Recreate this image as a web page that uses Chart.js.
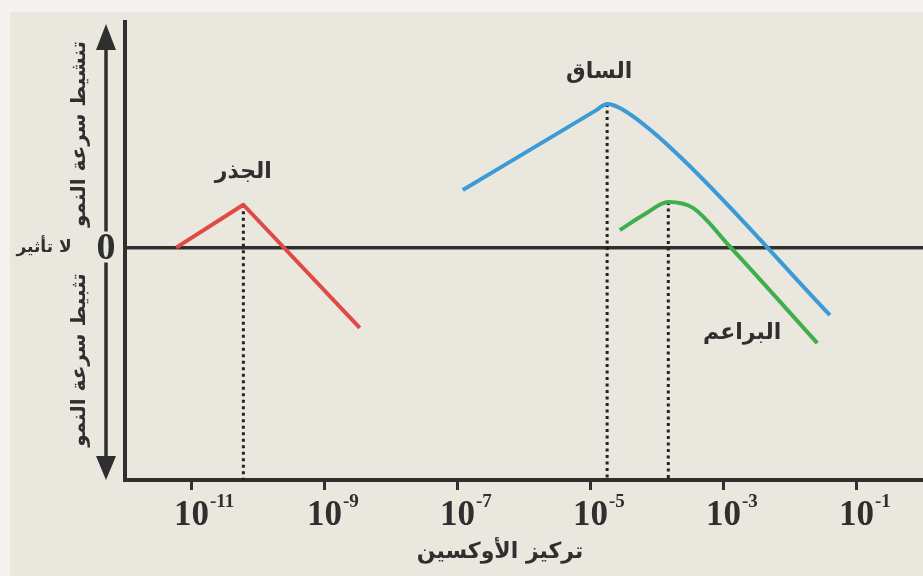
<!DOCTYPE html>
<html>
<head>
<meta charset="utf-8">
<script src="https://cdn.jsdelivr.net/npm/chart.js@4/dist/chart.umd.min.js"></script>
<style>
  html, body { margin: 0; padding: 0; background: #f4f3ef; }
  #wrap { width: 923px; height: 576px; }
</style>
</head>
<body>
<div id="wrap"><canvas id="c" width="923" height="576"></canvas></div>
<script>
// x: log10 of auxin concentration, y: growth response (+ stimulation, − inhibition)
const xTicks = [-11, -9, -7, -5, -3, -1];
const xMin = -12, xMax = 0;
const yMin = -10.3, yMax = 10;

const rootX = [-11.23, -10.22, -8.47];
const rootY = [0, 1.9, -3.56];
const stemX = [-6.92, -4.93, -4.75, -4.53, -3.76, -1.40];
const stemY = [2.55, 6.06, 6.37, 6.14, 4.33, -2.99];
const budX  = [-4.56, -4.18, -3.83, -3.46, -2.90, -1.59];
const budY  = [0.78, 1.49, 2.02, 1.76, 0.03, -4.23];

// optimum concentration of each organ
const optimumX = [-10.22, -4.75, -3.83];
const optimumY = [1.9, 6.37, 2.02];

const organNames = ['الجذر', 'الساق', 'البراعم'];
const nameX = [-10.22, -4.87, -2.72];
const nameY = [3.35, 7.78, -3.79];

const xTitle = 'تركيز الأوكسين';
const upText = 'تنشيط سرعة النمو';
const downText = 'تثبيط سرعة النمو';
const noEffect = 'لا تأثير';

const ink = '#2f2f2f';
const arabicFont = '"DejaVu Sans", sans-serif';
const serifFont = '"Liberation Serif", "DejaVu Serif", serif';

const pts = (xs, ys) => xs.map((x, i) => ({ x, y: ys[i] }));

const curve = (data, color, smooth) => ({
  data, borderColor: color, borderWidth: 4, pointRadius: 0,
  borderJoinStyle: 'round', showLine: true,
  cubicInterpolationMode: smooth ? 'monotone' : 'default', tension: 0
});
const dotted = (i) => ({
  data: [{ x: optimumX[i], y: optimumY[i] }, { x: optimumX[i], y: yMin }],
  borderColor: '#222', borderWidth: 3, borderDash: [3, 3.5],
  pointRadius: 0, showLine: true, tension: 0
});

const decor = {
  id: 'decor',
  beforeDraw(chart) {
    const ctx = chart.ctx;
    ctx.save();
    ctx.fillStyle = '#f4f3ef';
    ctx.fillRect(0, 0, chart.width, chart.height);
    ctx.fillStyle = '#eae8de';
    ctx.fillRect(10, 12, chart.width - 10, chart.height - 12);
    ctx.restore();
  },
  afterDraw(chart) {
    const ctx = chart.ctx;
    const xs = chart.scales.x, ys = chart.scales.y;
    const area = chart.chartArea;
    ctx.save();
    ctx.fillStyle = ink;
    ctx.strokeStyle = ink;

    // tick labels 10^n
    xTicks.forEach(v => {
      const px = xs.getPixelForValue(v);
      ctx.direction = 'ltr';
      ctx.font = 'bold 35px ' + serifFont;
      ctx.textAlign = 'center';
      ctx.textBaseline = 'alphabetic';
      ctx.fillText('10', px, 525);
      const w = ctx.measureText('10').width;
      ctx.font = 'bold 19px ' + serifFont;
      ctx.textAlign = 'left';
      ctx.fillText(String(v), px + w / 2 + 1, 507);
    });

    // axis title
    ctx.direction = 'rtl';
    ctx.textAlign = 'center';
    ctx.textBaseline = 'middle';
    ctx.font = 'bold 22px ' + arabicFont;
    ctx.fillText(xTitle, 500, 552);

    // organ names
    ctx.font = 'bold 22px ' + arabicFont;
    organNames.forEach((t, i) => {
      ctx.fillText(t, xs.getPixelForValue(nameX[i]), ys.getPixelForValue(nameY[i]));
    });

    // zero label and "no effect"
    const y0 = ys.getPixelForValue(0);
    ctx.direction = 'ltr';
    ctx.font = 'bold 38px ' + serifFont;
    ctx.fillText('0', 106, y0 + 2);
    ctx.direction = 'rtl';
    ctx.font = 'bold 17px ' + arabicFont;
    ctx.fillText(noEffect, 44, y0);

    // rotated side texts
    ctx.font = 'bold 20px ' + arabicFont;
    [[upText, 134], [downText, 360]].forEach(([t, cy]) => {
      ctx.save();
      ctx.translate(80, cy);
      ctx.rotate(-Math.PI / 2);
      ctx.fillText(t, 0, 0);
      ctx.restore();
    });

    // double-headed arrow
    const ax = 106;
    ctx.lineWidth = 3.5;
    ctx.beginPath();
    ctx.moveTo(ax, area.top + 20); ctx.lineTo(ax, y0 - 16);
    ctx.moveTo(ax, y0 + 15); ctx.lineTo(ax, area.bottom - 20);
    ctx.stroke();
    ctx.beginPath();
    ctx.moveTo(ax, area.top + 2); ctx.lineTo(ax - 10, area.top + 28); ctx.lineTo(ax + 10, area.top + 28);
    ctx.closePath(); ctx.fill();
    ctx.beginPath();
    ctx.moveTo(ax, area.bottom); ctx.lineTo(ax - 10, area.bottom - 24); ctx.lineTo(ax + 10, area.bottom - 24);
    ctx.closePath(); ctx.fill();
    ctx.restore();
  }
};

new Chart(document.getElementById('c'), {
  type: 'scatter',
  data: {
    datasets: [
      curve(pts(rootX, rootY), '#df4a45', false),
      curve(pts(stemX, stemY), '#3c9bd6', true),
      curve(pts(budX, budY), '#3fae4c', true),
      dotted(0), dotted(1), dotted(2)
    ]
  },
  options: {
    responsive: false,
    animation: false,
    layout: { padding: { left: 125, top: 22, right: 0, bottom: 86 } },
    plugins: { legend: { display: false }, tooltip: { enabled: false } },
    scales: {
      x: {
        type: 'linear', min: xMin, max: xMax,
        afterBuildTicks: s => { s.ticks = xTicks.map(v => ({ value: v })); },
        ticks: { display: false },
        grid: { display: true, drawOnChartArea: false, drawTicks: true, tickLength: 10, color: ink, lineWidth: 3 },
        border: { display: true, color: ink, width: 4 }
      },
      y: {
        type: 'linear', min: yMin, max: yMax,
        afterBuildTicks: s => { s.ticks = [{ value: 0 }]; },
        ticks: { display: false },
        grid: { display: true, drawOnChartArea: true, drawTicks: false, color: ink, lineWidth: 3.5 },
        border: { display: true, color: ink, width: 4 }
      }
    }
  },
  plugins: [decor]
});
</script>
</body>
</html>
